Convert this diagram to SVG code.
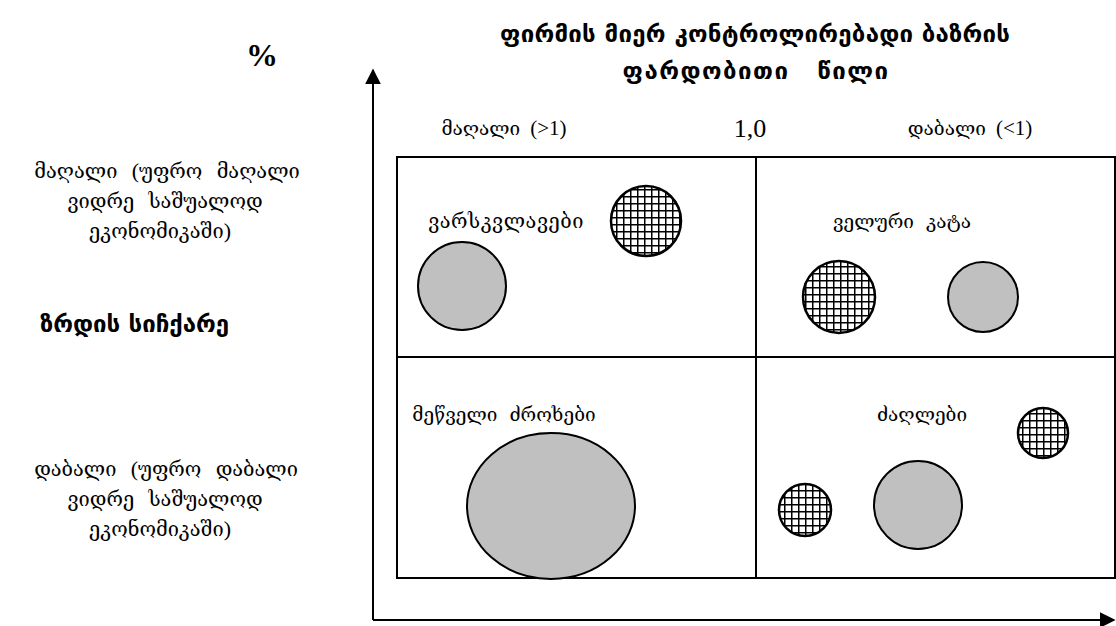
<svg xmlns="http://www.w3.org/2000/svg" width="1116" height="626" viewBox="0 0 1116 626">
<style>
.t{font-family:"DejaVu Serif","Liberation Serif",serif;font-size:19px;fill:#000}
.s{font-family:"DejaVu Serif","Liberation Serif",serif;font-size:20px;fill:#000}
.b{font-family:"DejaVu Sans","Liberation Sans",sans-serif;font-size:24px;font-weight:bold;fill:#000}
.n{font-family:"Liberation Serif",serif;font-size:26px;fill:#000}
.r{font-family:"Liberation Serif",serif}
.gray{fill:#c0c0c0;stroke:#000;stroke-width:2}
.hatch{fill:url(#grid);stroke:#000;stroke-width:2.5}
.ln{stroke:#000;stroke-width:2;fill:none}
</style>
<defs>
<pattern id="grid" width="7" height="7" patternUnits="userSpaceOnUse">
<rect width="7" height="7" fill="#fff"/>
<path d="M0 0.5H7M0.5 0V7" stroke="#000" stroke-width="2" fill="none"/>
</pattern>
<marker id="ah2" viewBox="0 0 10 10" refX="9" refY="5" markerWidth="16" markerHeight="16" orient="auto" markerUnits="userSpaceOnUse">
<path d="M0 0L10 5L0 10z" fill="#000"/>
</marker>
</defs>
<g id="connectors">
<line class="ln" x1="373" y1="620" x2="373" y2="70" marker-end="url(#ah2)"/>
<line class="ln" x1="373" y1="620" x2="1114" y2="620" marker-end="url(#ah2)"/>
</g>
<g id="grid-box">
<rect class="ln" x="397" y="157" width="718" height="421"/>
<line class="ln" x1="756" y1="157" x2="756" y2="578"/>
<line class="ln" x1="397" y1="357" x2="1115" y2="357"/>
</g>
<g id="title">
<text x="262" y="66" font-family="Liberation Serif,serif" font-size="32" font-weight="bold" text-anchor="middle">%</text>
<text class="b" x="755" y="42" text-anchor="middle" textLength="510" lengthAdjust="spacing">ფირმის მიერ კონტროლირებადი ბაზრის</text>
<text class="b" x="756" y="79" text-anchor="middle" word-spacing="18" letter-spacing="1.5">ფარდობითი წილი</text>
</g>
<g id="x-labels">
<text class="t" x="504" y="135" font-size="18" text-anchor="middle" word-spacing="4">მაღალი <tspan class="r" font-size="21">(&gt;1)</tspan></text>
<text class="n" x="750" y="137" text-anchor="middle">1,0</text>
<text class="t" x="970" y="135" font-size="18" text-anchor="middle" word-spacing="4">დაბალი <tspan class="r" font-size="21">(&lt;1)</tspan></text>
</g>
<g id="y-labels">
<text class="s" x="167" y="178" text-anchor="middle" word-spacing="8">მაღალი <tspan class="r" font-size="22">(</tspan>უფრო მაღალი</text>
<text class="s" x="165" y="208" text-anchor="middle" word-spacing="8">ვიდრე საშუალოდ</text>
<text class="s" x="160" y="238" text-anchor="middle">ეკონომიკაში<tspan class="r" font-size="22">)</tspan></text>
<text class="b" x="40" y="332" font-size="19">ზრდის სიჩქარე</text>
<text class="s" x="166" y="476" text-anchor="middle" word-spacing="8">დაბალი <tspan class="r" font-size="22">(</tspan>უფრო დაბალი</text>
<text class="s" x="165" y="506" text-anchor="middle" word-spacing="8">ვიდრე საშუალოდ</text>
<text class="s" x="160" y="536" text-anchor="middle">ეკონომიკაში<tspan class="r" font-size="22">)</tspan></text>
</g>
<g id="stars">
<text class="s" x="506" y="228" text-anchor="middle" letter-spacing="0.5">ვარსკვლავები</text>
<circle class="gray" cx="462" cy="286" r="44"/>
<circle class="hatch" cx="646" cy="221" r="35"/>
</g>
<g id="wildcat">
<text class="t" x="902" y="228" text-anchor="middle" word-spacing="6">ველური კატა</text>
<circle class="hatch" cx="839" cy="297" r="36"/>
<circle class="gray" cx="983" cy="297" r="35"/>
</g>
<g id="cashcows">
<text class="t" x="504" y="421" text-anchor="middle" word-spacing="6">მეწველი ძროხები</text>
<ellipse class="gray" cx="551" cy="506" rx="84" ry="73"/>
</g>
<g id="dogs">
<text class="t" x="922" y="421" text-anchor="middle">ძაღლები</text>
<circle class="hatch" cx="1043" cy="433" r="25"/>
<circle class="hatch" cx="805" cy="510" r="26"/>
<circle class="gray" cx="918" cy="505" r="44"/>
</g>
</svg>
